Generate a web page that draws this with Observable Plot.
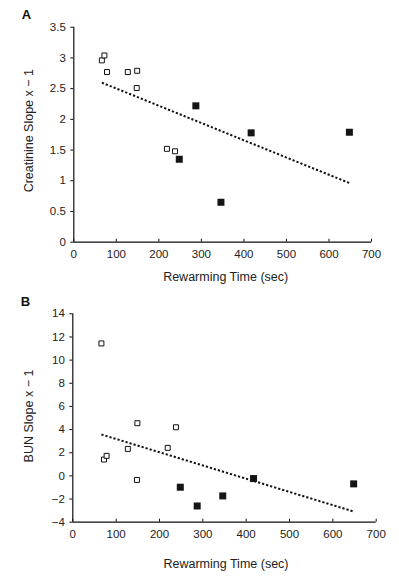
<!DOCTYPE html>
<html>
<head>
<meta charset="utf-8">
<script src="https://cdn.jsdelivr.net/npm/d3@7"></script>
<script src="https://cdn.jsdelivr.net/npm/@observablehq/plot@0.6"></script>
<style>
  html, body { margin: 0; padding: 0; background: #fff; }
  #chart { width: 399px; height: 578px; overflow: hidden; }
  #chart svg { display: block; background: #fff; }
</style>
</head>
<body>
<div id="chart"></div>
<script>
// ---- data ----
const rewarmingTime = [66, 72, 78, 127, 149, 148, 219, 238, 248, 287, 346, 417, 648];
const group = ["open", "open", "open", "open", "open", "open", "open", "open", "filled", "filled", "filled", "filled", "filled"];
const creatinineSlope = [2.96, 3.04, 2.77, 2.77, 2.79, 2.51, 1.52, 1.48, 1.35, 2.22, 0.65, 1.78, 1.79];
const bunSlope = [11.44, 1.41, 1.73, 2.33, 4.55, -0.35, 2.42, 4.20, -0.98, -2.60, -1.73, -0.23, -0.69];

const xTicks = [0, 100, 200, 300, 400, 500, 600, 700];
const creatinineTicks = [0, 0.5, 1, 1.5, 2, 2.5, 3, 3.5];
const bunTicks = [-4, -2, 0, 2, 4, 6, 8, 10, 12, 14];

const xLabel = "Rewarming Time (sec)";
const creatinineLabel = "Creatinine Slope x \u2212 1";
const bunLabel = "BUN Slope x \u2212 1";

const fmt = d3.format("~g");
const font = "'Liberation Sans', Arial, Helvetica, sans-serif";
const dash = "2.2,2";

function panel({values, ticks, yLabel, letter, mt, mb, ml, mr, xlDx, xlDy, ylDx, ylDy, letDx, letDy}) {
  const rows = rewarmingTime.map((t, i) => ({t, v: values[i], g: group[i]}));
  const yDomain = [ticks[0], ticks[ticks.length - 1]];
  const svg = Plot.plot({
    width: 399,
    height: 289,
    marginTop: mt,
    marginBottom: mb,
    marginLeft: ml,
    marginRight: mr,
    style: {fontFamily: font, fontSize: "11.5px", color: "#222", background: "#fff", overflow: "visible"},
    x: {domain: [xTicks[0], xTicks[xTicks.length - 1]]},
    y: {domain: yDomain},
    marks: [
      Plot.ruleX([xTicks[0]], {stroke: "#111", strokeWidth: 1.2}),
      Plot.ruleY([yDomain[0]], {stroke: "#111", strokeWidth: 1.2}),
      Plot.axisX({ticks: xTicks, tickFormat: fmt, tickSize: -3, tickPadding: 11, label: null, stroke: "#111"}),
      Plot.axisY({ticks: ticks, tickFormat: fmt, tickSize: 3, tickPadding: 5, label: null, stroke: "#111"}),
      Plot.linearRegressionY(rows, {x: "t", y: "v", ci: 0, stroke: "#111", strokeWidth: 2, strokeDasharray: dash, strokeLinecap: "butt"}),
      Plot.dot(rows.filter(d => d.g === "open"), {x: "t", y: "v", symbol: "square", r: 2.8, fill: "#fff", stroke: "#111", strokeWidth: 1}),
      Plot.dot(rows.filter(d => d.g === "filled"), {x: "t", y: "v", symbol: "square", r: 3.95, fill: "#151515", stroke: "none"}),
      Plot.text([xLabel], {frameAnchor: "bottom", textAnchor: "middle", dx: xlDx, dy: xlDy, fontSize: 12.5, fill: "#222", lineAnchor: "middle"}),
      Plot.text([yLabel], {frameAnchor: "left", textAnchor: "middle", rotate: -90, dx: ylDx, dy: ylDy, fontSize: 12.5, fill: "#222", lineAnchor: "middle"}),
      Plot.text([letter], {frameAnchor: "top-left", textAnchor: "start", lineAnchor: "middle", dx: letDx, dy: letDy, fontSize: 13, fontWeight: "bold", fill: "#111"})
    ]
  });
  d3.select(svg).selectAll("g[aria-label='linear-regression'] path, g[aria-label='linear-regression']")
    .attr("stroke-dasharray", dash);
  return svg;
}

const chart = document.getElementById("chart");
chart.append(panel({
  values: creatinineSlope, ticks: creatinineTicks, yLabel: creatinineLabel, letter: "A",
  mt: 26.7, mb: 47.3, ml: 73.3, mr: 28,
  xlDx: 3, xlDy: 35, ylDx: -45, ylDy: -4, letDx: -52, letDy: -12.7
}));
chart.append(panel({
  values: bunSlope, ticks: bunTicks, yLabel: bunLabel, letter: "B",
  mt: 24.3, mb: 56.3, ml: 72.3, mr: 23.3,
  xlDx: 1.5, xlDy: 41.3, ylDx: -44.3, ylDy: -2, letDx: -52, letDy: -11.8
}));
</script>
</body>
</html>
